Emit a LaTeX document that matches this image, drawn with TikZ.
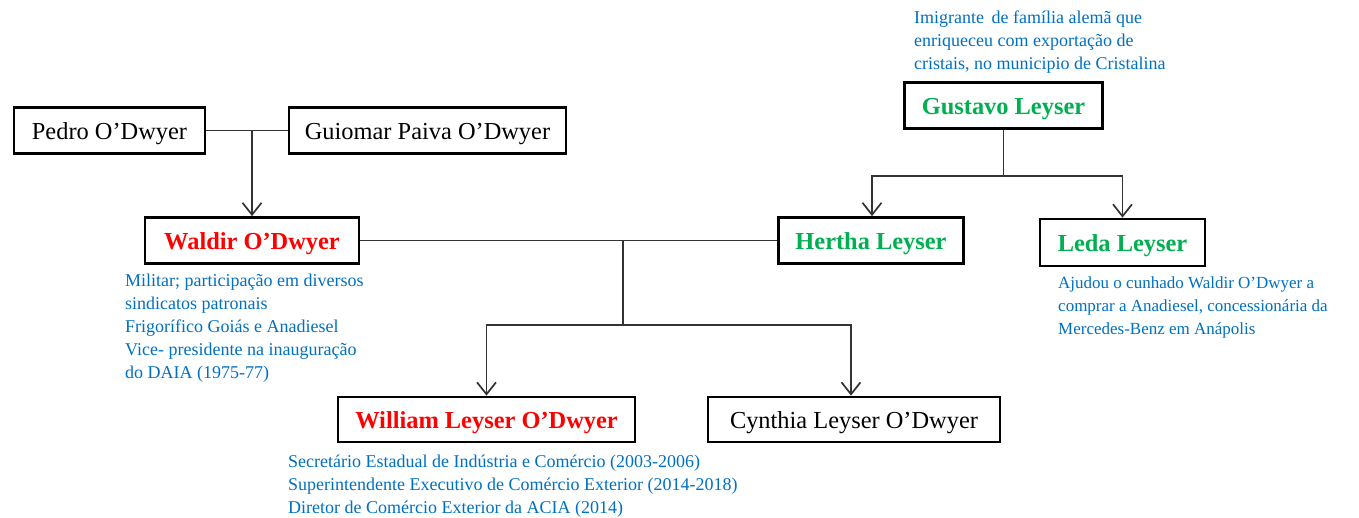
\documentclass[tikz,border=0pt]{standalone}
\usepackage{fontspec}
\setmainfont{Liberation Serif}
\usetikzlibrary{arrows.meta,calc}
\definecolor{noteblue}{RGB}{0,112,192}
\definecolor{namegreen}{RGB}{0,176,80}
\definecolor{namered}{RGB}{255,0,0}
\tikzset{
  person/.style={draw=black, line width=2.7pt, fill=white, inner sep=0pt,
    text height=18pt, text depth=0pt,
    font=\fontsize{24.4}{27}\selectfont},
  keyperson/.style={person, font=\fontsize{24.4}{27}\selectfont\bfseries},
  note/.style={anchor=north west, inner sep=0pt, align=left, text=noteblue,
    font=\fontsize{18}{23}\selectfont},
  link/.style={line width=1.7pt, draw=black!80},
  descent/.style={link, -{Straight Barb[length=12pt,width=19pt,line width=1.7pt]}}
}
\begin{document}
\begin{tikzpicture}[x=1pt,y=-1pt]
\useasboundingbox (0,0) rectangle (1359,518);

% people
\node[person, minimum width=191pt, minimum height=46pt] (pedro) at (109.5,130.5) {Pedro O’Dwyer};
\node[person, minimum width=277pt, minimum height=46pt] (guiomar) at (427.5,130.5) {Guiomar Paiva O’Dwyer};
\node[keyperson, text=namered, minimum width=214pt, minimum height=46pt] (waldir) at (252,240.5) {Waldir O’Dwyer};
\node[keyperson, text=namegreen, minimum width=198pt, minimum height=46pt] (gustavo) at (1003.5,105.5) {Gustavo Leyser};
\node[keyperson, text=namegreen, minimum width=185pt, minimum height=46pt] (hertha) at (871,240.5) {Hertha Leyser};
\node[keyperson, text=namegreen, minimum width=165pt, minimum height=47pt] (leda) at (1122.5,242.5) {Leda Leyser};
\node[keyperson, text=namered, minimum width=297pt, minimum height=45pt] (william) at (486.5,419.5) {William Leyser O’Dwyer};
\node[person, minimum width=292pt, minimum height=45pt] (cynthia) at (854,419.5) {Cynthia Leyser O’Dwyer};

% notes
\node[note] (gnote) at (914,11) {Imigrante\, de família alemã que\\enriqueceu com exportação de\\cristais, no municipio de Cristalina};
\node[note] (wnote) at (125,274) {Militar; participação em diversos\\sindicatos patronais\\Frigorífico Goiás e Anadiesel\\Vice- presidente na inauguração\\do DAIA (1975-77)};
\node[note, font=\fontsize{17}{23}\selectfont] (lnote) at (1058,277) {Ajudou o cunhado Waldir O’Dwyer a\\comprar a Anadiesel, concessionária da\\Mercedes-Benz em Anápolis};
\node[note] (wlnote) at (288,455) {Secretário Estadual de Indústria e Comércio (2003-2006)\\Superintendente Executivo de Comércio Exterior (2014-2018)\\Diretor de Comércio Exterior da ACIA (2014)};

% Pedro + Guiomar -> Waldir
\draw[link] (pedro.east) -- (guiomar.west);
\coordinate (pg) at (252,130.5);
\draw[descent] (pg) -- (pg |- waldir.north);

% Gustavo -> Hertha, Leda
\coordinate (gbar) at (gustavo.south |- 0,176);
\draw[link] (gustavo.south) -- (gbar);
\draw[descent] (gbar) -| ([xshift=1pt]hertha.north);
\draw[descent] (gbar) -| (leda.north);

% Waldir + Hertha -> William, Cynthia
\draw[link] (waldir.east) -- (hertha.west);
\coordinate (wh) at (623,240.5);
\coordinate (kbar) at (623,325);
\draw[link] (wh) -- (kbar);
\draw[descent] (kbar) -| (william.north);
\draw[descent] (kbar) -| ([xshift=-3pt]cynthia.north);
\end{tikzpicture}
\end{document}
